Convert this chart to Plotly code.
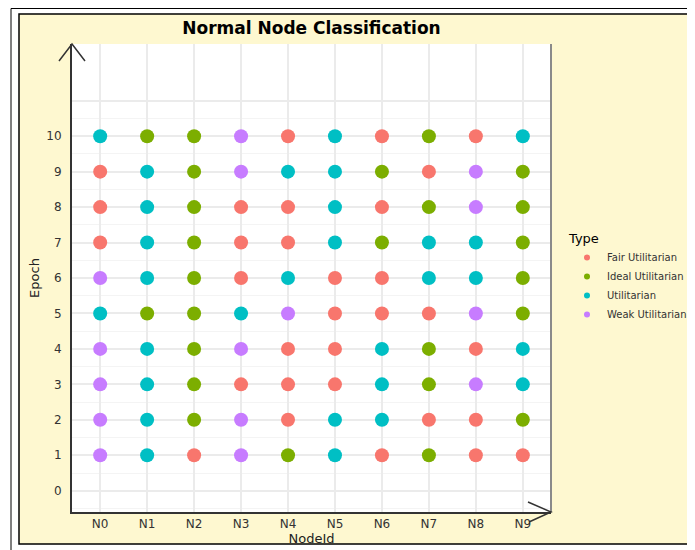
import plotly.graph_objects as go

# ---- data ----
node_ids = ["N0", "N1", "N2", "N3", "N4", "N5", "N6", "N7", "N8", "N9"]
epochs = [1, 2, 3, 4, 5, 6, 7, 8, 9, 10]
type_names = {"F": "Fair Utilitarian", "I": "Ideal Utilitarian",
              "U": "Utilitarian", "W": "Weak Utilitarian"}
type_order = ["F", "I", "U", "W"]
type_colors = {"F": "#F8766D", "I": "#7CAE00", "U": "#00BFC4", "W": "#C77CFF"}
# class of each node (N0..N9) per epoch
epoch_types = {
    1:  ["W", "U", "F", "W", "I", "U", "F", "I", "F", "F"],
    2:  ["W", "U", "I", "W", "F", "U", "U", "F", "F", "I"],
    3:  ["W", "U", "I", "F", "F", "F", "U", "I", "W", "U"],
    4:  ["W", "U", "I", "W", "F", "F", "U", "I", "F", "U"],
    5:  ["U", "I", "I", "U", "W", "F", "F", "F", "W", "I"],
    6:  ["W", "U", "I", "F", "U", "F", "F", "U", "U", "I"],
    7:  ["F", "U", "I", "F", "F", "U", "I", "U", "U", "I"],
    8:  ["F", "U", "I", "F", "F", "U", "F", "I", "W", "I"],
    9:  ["F", "U", "I", "W", "U", "U", "I", "F", "W", "I"],
    10: ["U", "I", "I", "W", "F", "U", "F", "I", "F", "U"],
}
y_ticks = list(range(0, 12))
y_ticktext = [str(v) for v in range(0, 11)] + [""]

OFF = 8  # page body margin offset
W, H = 695 - OFF, 550 - OFF
ML, MT = 72 - OFF, 44 - OFF
MB = H - (512 - OFF)
MR = W - (551 - OFF)
PW, PH = W - ML - MR, H - MT - MB

FONT = "DejaVu Sans, Liberation Sans, sans-serif"


def px(sx):
    return (sx - OFF - ML) / PW


def py(sy):
    return (H - MB - (sy - OFF)) / PH


fig = go.Figure()
for t in type_order:
    xs, ys = [], []
    for e in epochs:
        for n, c in zip(node_ids, epoch_types[e]):
            if c == t:
                xs.append(n)
                ys.append(e)
    fig.add_trace(go.Scatter(x=xs, y=ys, mode="markers", showlegend=False,
                             marker=dict(color=type_colors[t], size=14, line=dict(width=0)),
                             name=type_names[t]))
for t in type_order:
    fig.add_trace(go.Scatter(x=[None], y=[None], mode="markers", name=type_names[t],
                             marker=dict(color=type_colors[t], size=6)))

XR = px(OFF + W + 2)   # just beyond right edge of figure
YB = py(OFF + H + 2)   # just beyond bottom edge
shapes = [
    # yellow plot background (fill only)
    dict(type="rect", xref="paper", yref="paper", x0=px(19), x1=XR, y0=py(544), y1=py(14),
         line=dict(width=0), fillcolor="#FEF8D0", layer="below"),
    # white panel
    dict(type="rect", xref="paper", yref="paper", x0=0, x1=1, y0=0, y1=1,
         line=dict(width=0), fillcolor="white", layer="below"),
    # outer page border (top + left)
    dict(type="path", xref="paper", yref="paper",
         path=f"M {XR},{py(OFF + 0.5)} L {px(11)},{py(OFF + 0.5)} L {px(11)},{YB}",
         line=dict(color="black", width=1), layer="below"),
    # yellow area border (top + left + bottom)
    dict(type="path", xref="paper", yref="paper",
         path=f"M {XR},{py(14)} L {px(19)},{py(14)} L {px(19)},{py(544)} L {XR},{py(544)}",
         line=dict(color="black", width=1.5), layer="below"),
    # right panel border
    dict(type="line", xref="paper", yref="paper", x0=1, x1=1, y0=0, y1=1,
         line=dict(color="#8a8a8a", width=2)),
    # y-axis arrow head
    dict(type="path", xref="paper", yref="paper",
         path=f"M {px(59)},{py(61)} L {px(72)},{py(44)} L {px(85)},{py(61)}",
         line=dict(color="#333333", width=1.5)),
    # x-axis arrow head
    dict(type="path", xref="paper", yref="paper",
         path=f"M {px(528)},{py(502)} L {px(551)},{py(512)} L {px(529)},{py(522)}",
         line=dict(color="#333333", width=1.5)),
]

fig.update_layout(
    width=W, height=H,
    margin=dict(l=ML, r=MR, t=MT, b=MB, autoexpand=False),
    paper_bgcolor="white", plot_bgcolor="white",
    font=dict(family=FONT, color="#333333"),
    title=dict(text="<b>Normal Node Classification</b>", xref="container",
               x=(311.5 - OFF) / W, xanchor="center",
               yref="container", y=1 - (28 - OFF) / H, yanchor="middle",
               font=dict(family=FONT, size=17, color="black")),
    shapes=shapes,
    legend=dict(xref="container", x=(567 - OFF) / W, xanchor="left",
                y=py(226), yanchor="top",
                bgcolor="rgba(0,0,0,0)", font=dict(family=FONT, size=10, color="#333333"),
                title=dict(text="Type", font=dict(family=FONT, size=13, color="black")),
                tracegroupgap=0),
    showlegend=True,
)
fig.update_xaxes(type="category", categoryorder="array", categoryarray=node_ids,
                 range=[-0.6, 9.6], showline=True, linecolor="#333333", linewidth=2,
                 showgrid=True, gridcolor="#EBEBEB", gridwidth=1.5, zeroline=False,
                 ticks="", ticklabelstandoff=0, automargin=False,
                 tickfont=dict(family=FONT, size=12, color="#333333"),
                 title=dict(text="NodeId", font=dict(family=FONT, size=13, color="#222222"), standoff=0))
fig.update_yaxes(range=[-0.6, 12.6], tickmode="array", tickvals=y_ticks, ticktext=y_ticktext,
                 showline=True, linecolor="#333333", linewidth=2,
                 showgrid=True, gridcolor="#EBEBEB", gridwidth=1.5, zeroline=False,
                 ticks="", ticklabelstandoff=6, automargin=False,
                 minor=dict(tickmode="array", tickvals=[v + 0.5 for v in range(-1, 11)],
                            showgrid=True, gridcolor="#F4F4F4", gridwidth=1),
                 tickfont=dict(family=FONT, size=12, color="#333333"),
                 title=dict(text="Epoch", font=dict(family=FONT, size=13, color="#222222"), standoff=4))

fig.write_html("out.html")
